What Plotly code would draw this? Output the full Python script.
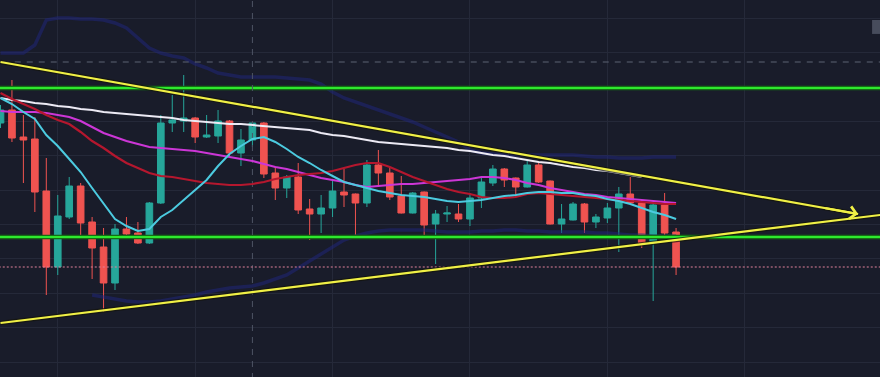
import plotly.graph_objects as go

# ---------------- data (price units) ----------------
idx = list(range(60))
open_ = [87.7,89.0,86.3,86.1,80.9,73.3,78.3,81.4,77.8,75.3,
         71.7,77.1,76.7,75.7,79.7,87.7,87.9,88.2,86.3,86.4,
         87.9,84.7,86.0,87.7,82.7,81.2,82.3,79.1,78.6,79.2,
         80.8,80.6,79.7,83.5,82.7,80.4,78.7,80.8,77.6,78.6,
         78.6,78.1,80.2,81.7,83.1,82.2,81.3,83.5,81.9,77.6,
         78.0,79.6,77.8,78.2,79.2,80.6,79.7,75.7,79.5,76.8]
high_ = [89.5,92.0,88.5,88.3,84.2,80.5,82.3,81.7,78.3,77.2,
         77.6,78.3,77.8,79.8,88.5,90.5,92.5,88.3,88.5,89.0,
         88.0,87.1,87.8,87.8,83.3,82.5,83.7,80.1,80.5,82.1,
         83.1,80.65,84.0,85.0,83.2,82.4,80.8,80.85,79.0,79.4,
         79.6,80.7,82.3,83.5,83.2,82.25,84.0,83.7,81.95,79.6,
         79.8,79.7,78.6,79.7,81.3,82.3,79.75,79.7,80.7,77.2]
low_ = [87.2,85.8,81.7,78.8,70.5,72.5,78.1,76.2,72.1,68.8,
        71.0,76.4,75.6,75.6,79.6,86.8,86.8,85.7,86.2,85.7,
        84.3,83.4,85.3,82.2,80.0,80.2,78.6,76.0,76.7,78.3,
        79.3,76.5,79.3,81.5,80.0,78.65,78.65,76.5,73.6,77.8,
        77.8,77.4,79.2,81.4,81.3,80.3,81.25,81.7,77.55,76.7,
        77.95,76.7,77.2,77.7,74.8,79.65,75.2,69.9,76.3,72.5]
close_ = [89.0,86.2,86.0,80.8,73.3,78.4,81.4,77.7,75.2,71.7,
          77.1,76.6,75.7,79.7,87.7,88.0,88.2,86.3,86.5,87.9,
          84.7,86.0,87.7,82.6,81.2,82.3,79.0,78.6,79.2,80.9,
          80.5,79.7,83.5,82.7,80.3,78.7,80.7,77.5,78.6,78.7,
          78.1,80.2,81.8,83.1,82.0,81.3,83.5,81.8,77.6,78.1,
          79.6,77.8,78.3,79.2,80.6,79.7,75.7,79.5,76.7,73.3]

ma_fast = [90.2,89.6,88.8,88.1,86.5,85.4,84.1,82.8,81.2,79.7,
           78.1,77.4,76.9,77.1,78.3,79.0,80.0,81.0,82.0,83.4,
           84.6,85.4,86.1,86.3,85.8,85.1,84.3,83.7,83.0,82.4,
           81.8,81.5,81.2,80.9,80.7,80.5,80.4,80.3,80.1,79.9,
           79.8,79.9,80.0,80.2,80.4,80.5,80.7,80.8,80.8,80.7,
           80.7,80.5,80.4,80.1,79.9,79.6,79.2,78.8,78.5,78.1]
ma_mid = [90.7,90.1,89.6,89.1,88.5,88.0,87.6,86.8,85.9,85.2,
          84.4,83.7,83.2,82.7,82.4,82.3,82.1,81.9,81.7,81.6,
          81.5,81.5,81.6,81.8,82.1,82.3,82.5,82.6,82.7,82.9,
          83.2,83.5,83.7,83.7,83.3,82.8,82.3,81.9,81.5,81.1,
          80.8,80.6,80.3,80.2,80.2,80.3,80.6,80.7,80.6,80.5,
          80.4,80.3,80.2,80.1,80.0,79.9,79.8,79.7,79.6,79.6]
ma_slow = [88.9,88.8,88.8,88.8,88.7,88.5,88.3,87.9,87.3,86.7,
           86.3,85.9,85.6,85.3,85.2,85.1,85.0,84.9,84.7,84.5,
           84.3,84.1,83.9,83.6,83.3,83.1,82.8,82.5,82.2,82.0,
           81.8,81.5,81.3,81.4,81.5,81.6,81.6,81.7,81.8,81.9,
           82.0,82.1,82.3,82.3,82.2,82.0,81.7,81.5,81.2,81.0,
           80.8,80.6,80.5,80.3,80.2,80.1,80.0,79.9,79.8,79.7]
ma_long = [90.2,90.0,89.9,89.7,89.6,89.4,89.3,89.1,89.0,88.8,
           88.7,88.6,88.5,88.4,88.3,88.2,88.0,87.9,87.8,87.7,
           87.6,87.6,87.5,87.4,87.3,87.2,87.1,87.0,86.7,86.5,
           86.4,86.2,86.0,85.8,85.7,85.6,85.5,85.4,85.3,85.2,
           85.0,84.9,84.7,84.5,84.4,84.2,84.0,83.8,83.7,83.5,
           83.3,83.2,83.0,82.9,82.7,82.5,82.3,None,None,None]
band_up = [94.7,94.7,94.7,95.5,98.0,98.2,98.2,98.1,98.1,98.0,
           97.7,97.2,96.2,95.2,94.7,94.4,94.2,93.6,93.2,92.7,
           92.5,92.3,92.3,92.3,92.3,92.2,92.1,92.0,91.6,90.8,
           90.2,89.8,89.4,89.0,88.6,88.2,87.8,87.3,86.8,86.3,
           85.8,85.0,84.7,84.6,84.5,84.5,84.5,84.5,84.5,84.5,
           84.5,84.4,84.3,84.3,84.2,84.2,84.2,84.3,84.3,84.3]
band_lo = [None]*8 + [70.5,70.3,
           70.1,69.9,69.8,69.8,69.9,70.1,70.3,70.5,70.8,71.0,
           71.2,71.3,71.4,71.7,72.1,72.5,73.2,73.9,74.7,75.4,
           76.0,76.4,76.7,76.9,77.0,77.0,77.0,77.0,76.9,76.8,
           76.8,76.8,76.9,76.9,77.0,77.0,76.9,76.9,76.8,76.8,
           76.8,76.8,76.7,76.7,76.6,76.5,76.5,76.4,76.4,76.4]

levels_green = [91.2, 76.3]
last_price = 73.3
cross_price = 93.8
cross_idx = 22
trend_upper_x = [0, 74.9]
trend_upper_y = [93.8, 78.6]
trend_lower_x = [0, 80]
trend_lower_y = [67.7, 78.95]

X_RANGE = [-0.044, 76.81]
Y_RANGE = [62.3, 100.0]

BG = "#191c2a"
GRID = "#252939"
UP = "#26a69a"
DN = "#ef5350"
YEL = "#f0f046"
BAND = "rgba(32,38,128,0.5)"

fig = go.Figure()

# Bollinger-like bands
fig.add_trace(go.Scatter(x=idx, y=band_up, mode="lines",
                         line=dict(color=BAND, width=3.5), hoverinfo="skip", connectgaps=False))
fig.add_trace(go.Scatter(x=idx, y=band_lo, mode="lines",
                         line=dict(color=BAND, width=3.5), hoverinfo="skip", connectgaps=False))

# green horizontal levels
for lv in levels_green:
    fig.add_trace(go.Scatter(x=[X_RANGE[0] - 5, X_RANGE[1] + 5], y=[lv, lv], mode="lines",
                             line=dict(color="#146e14", width=4.5), hoverinfo="skip"))
    fig.add_trace(go.Scatter(x=[X_RANGE[0] - 5, X_RANGE[1] + 5], y=[lv, lv], mode="lines",
                             line=dict(color="#2ee82e", width=2), hoverinfo="skip"))

# crosshair
fig.add_trace(go.Scatter(x=[X_RANGE[0] - 5, X_RANGE[1] + 5], y=[cross_price, cross_price], mode="lines",
                         line=dict(color="#5c6272", width=1, dash="6px,6px"), hoverinfo="skip"))
fig.add_trace(go.Scatter(x=[cross_idx, cross_idx], y=[Y_RANGE[0] - 5, Y_RANGE[1] + 5], mode="lines",
                         line=dict(color="#4e5464", width=1, dash="6px,6px"), hoverinfo="skip"))

# last price dotted line
fig.add_trace(go.Scatter(x=[X_RANGE[0] - 5, X_RANGE[1] + 5], y=[last_price, last_price], mode="lines",
                         line=dict(color="#e0809a", width=1, dash="2px,2px"), hoverinfo="skip"))

# moving averages
fig.add_trace(go.Scatter(x=idx, y=ma_long, mode="lines",
                         line=dict(color="#eceaf4", width=2), hoverinfo="skip"))
fig.add_trace(go.Scatter(x=idx, y=ma_slow, mode="lines",
                         line=dict(color="#cc36d6", width=2.2), hoverinfo="skip"))
fig.add_trace(go.Scatter(x=idx, y=ma_mid, mode="lines",
                         line=dict(color="#b5172e", width=2.2), hoverinfo="skip"))
fig.add_trace(go.Scatter(x=idx, y=ma_fast, mode="lines",
                         line=dict(color="#4ccbe0", width=2), hoverinfo="skip"))

# candles
fig.add_trace(go.Candlestick(
    x=idx, open=open_, high=high_, low=low_, close=close_,
    increasing=dict(line=dict(color=UP, width=1), fillcolor=UP),
    decreasing=dict(line=dict(color=DN, width=1), fillcolor=DN),
    whiskerwidth=0, hoverinfo="skip"))

# trendlines
fig.add_trace(go.Scatter(x=trend_lower_x, y=trend_lower_y, mode="lines",
                         line=dict(color="rgba(20,20,10,0.7)", width=4.5), hoverinfo="skip"))
fig.add_trace(go.Scatter(x=trend_lower_x, y=trend_lower_y, mode="lines",
                         line=dict(color=YEL, width=2.2), hoverinfo="skip"))
fig.add_trace(go.Scatter(x=trend_upper_x, y=trend_upper_y, mode="lines",
                         line=dict(color="rgba(20,20,10,0.7)", width=4.5), hoverinfo="skip"))
fig.add_trace(go.Scatter(x=trend_upper_x, y=trend_upper_y, mode="lines",
                         line=dict(color=YEL, width=2.2), hoverinfo="skip"))
slope = (trend_upper_y[0] - trend_upper_y[1]) / (trend_upper_x[1] - trend_upper_x[0])
fig.add_annotation(x=trend_upper_x[1], y=trend_upper_y[1],
                   ax=trend_upper_x[1] - 3, ay=trend_upper_y[1] + 3 * slope,
                   axref="x", ayref="y", xref="x", yref="y", text="",
                   showarrow=True, arrowhead=4, arrowsize=1.1, arrowwidth=2.2, arrowcolor=YEL)

# small widget at top-right
fig.add_shape(type="rect", xref="paper", yref="paper", x0=0.991, x1=1.0, y0=0.91, y1=0.947,
              fillcolor="#474c5c", line=dict(width=0))

fig.update_layout(
    width=880, height=377,
    margin=dict(l=0, r=0, t=0, b=0),
    paper_bgcolor=BG, plot_bgcolor=BG,
    showlegend=False, hovermode=False,
    boxgap=0.42, boxgroupgap=0,
    xaxis=dict(range=X_RANGE, showgrid=True, gridcolor=GRID, gridwidth=1,
               tick0=5, dtick=12, showticklabels=False, zeroline=False,
               rangeslider=dict(visible=False), fixedrange=True),
    yaxis=dict(range=Y_RANGE, showgrid=True, gridcolor=GRID, gridwidth=1,
               tick0=98.2, dtick=3.44, showticklabels=False, zeroline=False, fixedrange=True),
)

fig.write_html("out.html", config={"displayModeBar": False},
               post_script="document.body.style.margin='0';document.body.style.overflow='hidden';"
                           "document.body.style.background='" + BG + "';")
